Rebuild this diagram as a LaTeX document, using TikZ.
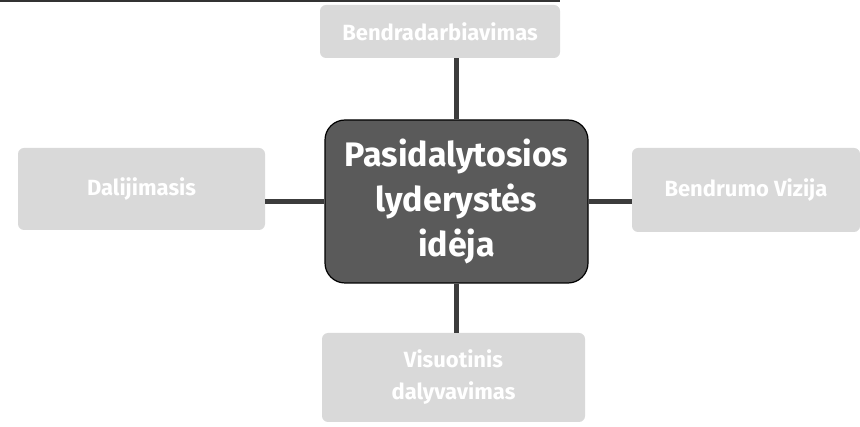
\documentclass[tikz,border=0pt]{standalone}
\usepackage{fontspec}
\setmainfont{Fira Sans}
\usepackage{xcolor}
\definecolor{lightbox}{HTML}{D9D9D9}
\definecolor{darkbox}{HTML}{5A5A5A}
\definecolor{linkgray}{HTML}{3C3C3C}

\begin{document}
\begin{tikzpicture}[x=1pt,y=-1pt,
  sidebox/.style={rectangle,rounded corners=6pt,fill=lightbox,text=white,
    font=\fontsize{22}{32}\selectfont\bfseries,align=center,inner sep=0pt},
  ideabox/.style={rectangle,rounded corners=20pt,draw=black,line width=1.2pt,
    fill=darkbox,text=white,font=\fontsize{34}{45}\selectfont\bfseries,
    align=center,inner sep=0pt,minimum width=263pt,minimum height=163pt},
  link/.style={linkgray,line width=5pt}]

\useasboundingbox (0,0) rectangle (860,427);
\draw [black!80,line width=2pt] (0,1) -- (560,1);

\node [ideabox] (idea) at (456.5,201.5) {Pasidalytosios\\lyderystės\\idėja};

\node [sidebox,minimum width=240pt,minimum height=53pt] (bendr) at (440,31.5) {Bendradarbiavimas};
\node [sidebox,minimum width=247pt,minimum height=82pt] (dal) at (141.5,189) {Dalijimasis};
\node [sidebox,minimum width=228pt,minimum height=84pt] (kult) at (746,190) {Bendrumo Vizija};
\node [sidebox,minimum width=263pt,minimum height=89pt] (vis) at (453.5,377.5) {Visuotinis\\dalyvavimas};

\draw [link] (bendr.south -| idea.north) -- (idea.north);
\draw [link] (idea.south) -- (vis.north -| idea.south);
\draw [link] (dal.east |- idea.west) -- (idea.west);
\draw [link] (idea.east) -- (kult.west |- idea.east);

\end{tikzpicture}
\end{document}
